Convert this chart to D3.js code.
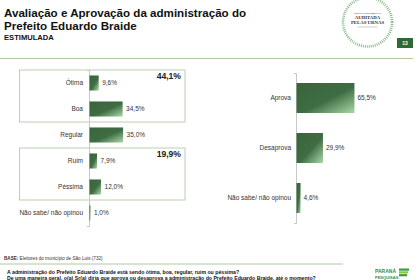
<!DOCTYPE html>
<html>
<head>
<meta charset="utf-8">
<script src="https://cdn.jsdelivr.net/npm/d3@7"></script>
<style>
  body { margin: 0; background: #fff; }
  svg { display: block; font-family: "Liberation Sans", Arial, sans-serif; }
  .axis path, .axis line { stroke: #c8c8c8; }
  .axis text { fill: #333; font-size: 6.5px; }
</style>
</head>
<body>
<div id="chart"></div>
<script>
// Evaluation (left chart)
const evalCats = ["Ótima", "Boa", "Regular", "Ruim", "Péssima", "Não sabe/ não opinou"];
const evalValues = [9.6, 34.5, 35.0, 7.9, 12.0, 1.0];

// Grouped totals shown in boxes
const groupLabels = ["44,1%", "19,9%"];
const groupRanges = [["Ótima", "Boa"], ["Ruim", "Péssima"]];

// Approval (right chart)
const approvCats = ["Aprova", "Desaprova", "Não sabe/ não opinou"];
const approvValues = [65.5, 29.9, 4.6];

const width = 420, height = 280;

const ptBR = d3.formatLocale({ decimal: ",", thousands: ".", grouping: [3], currency: ["R$", ""] });
const fmt = v => ptBR.format(".1f")(v) + "%";

const svg = d3.select("#chart")
  .append("svg")
    .attr("width", width)
    .attr("height", height)
    .attr("viewBox", [0, 0, width, height]);

// Bar gradient
const grad = svg.append("defs")
  .append("linearGradient")
    .attr("id", "barGrad")
    .attr("x1", 0).attr("y1", 0).attr("x2", 1).attr("y2", 1);
grad.append("stop").attr("offset", "0%").attr("stop-color", "#38653b");
grad.append("stop").attr("offset", "55%").attr("stop-color", "#3f6d43");
grad.append("stop").attr("offset", "100%").attr("stop-color", "#acd8a8");

/*******************************/
/*           Header            */
/*******************************/
const title = svg.append("text")
  .attr("x", 4)
  .attr("y", 17)
  .attr("fill", "#111")
  .style("font-weight", "bold")
  .style("font-size", "11.6px");
title.append("tspan").text("Avaliação e Aprovação da administração do");
title.append("tspan").attr("x", 4).attr("dy", 12.8).text("Prefeito Eduardo Braide");

svg.append("text")
  .attr("x", 4)
  .attr("y", 40)
  .attr("fill", "#111")
  .style("font-weight", "bold")
  .style("font-size", "7.6px")
  .text("ESTIMULADA");

svg.append("line")
  .attr("x1", 0).attr("x2", 413)
  .attr("y1", 58.5).attr("y2", 58.5)
  .attr("stroke", "#adc8a3")
  .attr("stroke-width", 1);

// Page number
svg.append("rect")
  .attr("x", 397).attr("y", 38)
  .attr("width", 16).attr("height", 10)
  .attr("fill", "#2f6a35");
svg.append("text")
  .attr("x", 405).attr("y", 44.8)
  .attr("text-anchor", "middle")
  .attr("fill", "#fff")
  .style("font-size", "5px")
  .style("font-weight", "bold")
  .text("13");

// Seal logo
const seal = svg.append("g").attr("transform", "translate(367.5, 22)");
seal.append("circle")
  .attr("r", 24.5)
  .attr("fill", "none")
  .attr("stroke", "#5fa25f")
  .attr("stroke-width", 2.6)
  .attr("stroke-dasharray", "0.9 1.1")
  .attr("opacity", 0.8);
seal.append("text")
  .attr("y", -8).attr("text-anchor", "middle")
  .attr("fill", "#444")
  .style("font-family", "'Liberation Serif', serif")
  .style("font-size", "2.8px")
  .style("font-weight", "bold")
  .text("NOSSAS PESQUISAS");
const sealText = seal.append("text")
  .attr("text-anchor", "middle")
  .attr("fill", "#333")
  .style("font-family", "'Liberation Serif', serif")
  .style("font-size", "4.8px")
  .style("font-weight", "bold");
sealText.append("tspan").attr("x", 0).attr("y", -3).text("AUDITADA");
sealText.append("tspan").attr("x", 0).attr("y", 2).text("PELAS URNAS");
seal.append("line")
  .attr("x1", -10).attr("x2", 10)
  .attr("y1", 5).attr("y2", 5)
  .attr("stroke", "#999")
  .attr("stroke-width", 0.5);

/*******************************/
/*     Left: evaluation        */
/*******************************/
const xEval = d3.scaleLinear()
  .domain([0, 100])
  .range([89, 185]);

const yEval = d3.scaleBand()
  .domain(evalCats)
  .range([70, 226])
  .paddingInner(0.42)
  .paddingOuter(0.21);

const boxPad = yEval.step() * 0.21;

// Group boxes
groupRanges.forEach((r, i) => {
  const top = yEval(r[0]) - boxPad;
  const bottom = yEval(r[1]) + yEval.bandwidth() + boxPad;
  svg.append("rect")
    .attr("x", 19.5).attr("y", top)
    .attr("width", 165.5).attr("height", bottom - top)
    .attr("fill", "none")
    .attr("stroke", "#b9cfb0")
    .attr("stroke-width", 1);
  svg.append("text")
    .attr("x", 181).attr("y", top + 9)
    .attr("text-anchor", "end")
    .attr("fill", "#222")
    .style("font-weight", "bold")
    .style("font-size", "8.6px")
    .text(groupLabels[i]);
});

svg.append("g")
  .attr("class", "axis")
  .attr("transform", `translate(${xEval(0)}, 0)`)
  .call(d3.axisLeft(yEval).tickSize(0).tickSizeOuter(2).tickPadding(6))
  .call(g => g.select(".domain").attr("stroke", "#c8c8c8"));

svg.append("g")
  .selectAll("rect")
  .data(evalValues)
  .join("rect")
    .attr("x", xEval(0) + 0.5)
    .attr("y", (d, i) => yEval(evalCats[i]))
    .attr("width", d => xEval(d) - xEval(0))
    .attr("height", yEval.bandwidth())
    .attr("fill", "url(#barGrad)");

svg.append("g")
  .selectAll("text")
  .data(evalValues)
  .join("text")
    .attr("x", d => xEval(d) + 4)
    .attr("y", (d, i) => yEval(evalCats[i]) + yEval.bandwidth() / 2)
    .attr("dy", "0.35em")
    .attr("fill", "#333")
    .style("font-size", "6.5px")
    .text(fmt);

/*******************************/
/*      Right: approval        */
/*******************************/
const xApprov = d3.scaleLinear()
  .domain([0, 100])
  .range([296, 384.5]);

const yApprov = d3.scaleBand()
  .domain(approvCats)
  .range([73, 223])
  .paddingInner(0.4)
  .paddingOuter(0.2);

svg.append("g")
  .attr("class", "axis")
  .attr("transform", `translate(${xApprov(0)}, 0)`)
  .call(d3.axisLeft(yApprov).tickSize(0).tickSizeOuter(2).tickPadding(5))
  .call(g => g.select(".domain").attr("stroke", "#c8c8c8"));

svg.append("g")
  .selectAll("rect")
  .data(approvValues)
  .join("rect")
    .attr("x", xApprov(0) + 0.5)
    .attr("y", (d, i) => yApprov(approvCats[i]))
    .attr("width", d => xApprov(d) - xApprov(0))
    .attr("height", yApprov.bandwidth())
    .attr("fill", "url(#barGrad)");

svg.append("g")
  .selectAll("text")
  .data(approvValues)
  .join("text")
    .attr("x", d => xApprov(d) + 3.5)
    .attr("y", (d, i) => yApprov(approvCats[i]) + yApprov.bandwidth() / 2)
    .attr("dy", "0.35em")
    .attr("fill", "#333")
    .style("font-size", "6.5px")
    .text(fmt);

/*******************************/
/*           Footer            */
/*******************************/
const base = svg.append("text")
  .attr("x", 4).attr("y", 259.5)
  .attr("fill", "#333")
  .style("font-size", "4.6px");
base.append("tspan").style("font-weight", "bold").text("BASE:");
base.append("tspan").text(" Eleitores do município de São Luís (732)");

svg.append("line")
  .attr("x1", 0).attr("x2", 343)
  .attr("y1", 264).attr("y2", 264)
  .attr("stroke", "#adc8a3")
  .attr("stroke-width", 1);

const question = svg.append("text")
  .attr("x", 7).attr("y", 273.5)
  .attr("fill", "#111")
  .style("font-weight", "bold")
  .style("font-size", "5.2px");
question.append("tspan")
  .text("A administração do Prefeito Eduardo Braide está sendo ótima, boa, regular, ruim ou péssima?");
question.append("tspan")
  .attr("x", 7).attr("dy", 6)
  .text("De uma maneira geral, o(a) Sr(a) diria que aprova ou desaprova a administração do Prefeito Eduardo Braide, até o momento?");

// Paraná Pesquisas logo
const logo = svg.append("g").attr("transform", "translate(375, 268)");
logo.append("text")
  .attr("x", 0).attr("y", 5)
  .attr("fill", "#3f8a3c")
  .style("font-weight", "bold")
  .style("font-size", "5px")
  .text("PARANÁ");
logo.append("text")
  .attr("x", 0).attr("y", 10.5)
  .attr("fill", "#3f8a3c")
  .style("font-weight", "bold")
  .style("font-size", "4px")
  .text("PESQUISAS");
[0, 1, 2].forEach(i => {
  logo.append("rect")
    .attr("x", 24).attr("y", 0.5 + i * 2.8)
    .attr("width", 10 - i).attr("height", 2.2)
    .attr("fill", i === 1 ? "#8cc63f" : "#3f9a3c");
});
</script>
</body>
</html>
